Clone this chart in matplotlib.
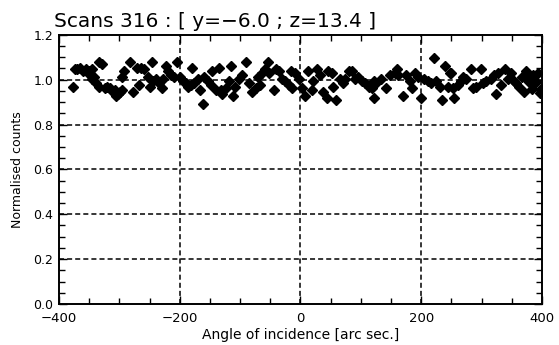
import numpy as np
import matplotlib
matplotlib.use("Agg")
import matplotlib.pyplot as plt
from matplotlib.ticker import MultipleLocator, FormatStrFormatter

# angle of incidence (arc sec) and normalised counts
angle = [-376, -373, -370, -366, -361, -356, -351, -348, -346, -345, -342,
         -339, -333, -333, -328, -324, -320, -316, -311, -307, -305, -302,
         -299, -296, -295, -292, -283, -278, -271, -268, -264, -259, -253,
         -250, -246, -245, -239, -234, -230, -228, -223, -219, -214, -209,
         -204, -200, -195, -190, -187, -181, -179, -176, -170, -167, -162,
         -159, -153, -148, -146, -140, -135, -132, -130, -124, -119, -115,
         -111, -108, -102, -97, -90, -86, -80, -74, -70, -67, -64, -58, -53,
         -52, -44, -41, -35, -31, -25, -19, -16, -14, -9, -3, 3, 7, 13, 19, 21,
         27, 33, 38, 44, 46, 52, 54, 59, 66, 71, 74, 80, 85, 90, 96, 102,
         107, 113, 119, 121, 122, 125, 134, 142, 148, 157, 160, 161, 170,
         175, 181, 184, 190, 195, 200, 205, 211, 217, 222, 225, 231, 234,
         240, 244, 247, 249, 252, 255, 261, 266, 269, 275, 282, 285, 291,
         299, 302, 308, 316, 321, 324, 327, 332, 338, 343, 349, 354, 357,
         362, 367, 371, 374, 376,
         379, 383, 385, 390, 393, 396, 399]
counts = [0.969, 1.046, 1.046, 1.054, 1.037, 1.046, 1.037, 1.020, 1.046, 1.003, 1.012,
          0.986, 0.969, 1.080, 1.071, 0.961, 0.969, 0.961, 0.944, 0.952, 0.927, 0.935,
          0.944, 0.952, 1.012, 1.037, 1.080, 0.944, 1.054, 0.978, 1.054, 1.046, 1.012,
          0.969, 1.080, 0.995, 1.003, 0.986, 0.961, 1.003, 1.063, 1.037, 1.020, 1.012,
          1.080, 1.012, 0.995, 0.986, 0.969, 0.978, 1.054, 0.986, 1.003, 0.952, 0.892,
          1.012, 0.995, 0.978, 1.037, 0.952, 1.054, 0.952, 0.935, 0.961, 0.995, 1.063,
          0.927, 0.969, 1.003, 1.020, 1.080, 0.986, 0.944, 0.961, 1.012, 0.978, 1.029,
          1.046, 1.080, 1.029, 0.952, 1.046, 1.037, 1.003, 0.995, 0.978, 1.037, 0.961,
          1.029, 1.003, 0.961, 0.927, 1.037, 0.952, 0.995, 1.046, 1.020, 0.944, 0.918,
          1.037, 1.029, 0.969, 0.910, 1.003, 0.986, 1.003, 1.037, 1.037, 1.003, 1.012,
          0.995, 0.986, 0.969, 0.961, 0.995, 0.918, 0.986, 1.003, 0.961, 1.020, 1.029,
          1.046, 1.020, 0.927, 1.020, 0.995, 0.961, 1.029, 1.012, 0.918, 1.003, 0.995,
          0.986, 1.097, 0.995, 0.969, 0.910, 1.063, 0.969, 1.029, 1.029, 0.961, 0.918,
          0.978, 0.995, 1.012, 1.003, 1.046, 0.961, 0.969, 1.046, 0.986, 0.995, 1.003,
          1.020, 0.935, 1.029, 0.978, 1.046, 1.003, 1.029, 0.995, 0.986, 0.969, 1.012,
          0.944, 1.037, 1.003,
          0.990, 0.960, 1.020, 0.990, 1.030, 0.940, 0.960]

fig = plt.figure(figsize=(5.59, 3.45), dpi=100)
ax = fig.add_axes([0.1055, 0.119, 0.864, 0.780])

ax.plot(angle, counts, linestyle="none", marker="D", markersize=4.6,
        color="black", zorder=3)

ax.set_xlim(-400, 400)
ax.set_ylim(0.0, 1.2)
ax.xaxis.set_major_locator(MultipleLocator(200))
ax.xaxis.set_minor_locator(MultipleLocator(50))
ax.yaxis.set_major_locator(MultipleLocator(0.2))
ax.yaxis.set_minor_locator(MultipleLocator(0.05))
ax.yaxis.set_major_formatter(FormatStrFormatter("%.1f"))

# dashed reference grid
for gx in [-200, 0, 200]:
    ax.axvline(gx, color="black", lw=1.1, ls=(0, (3.3, 2)), zorder=1)
for gy in [0.2, 0.4, 0.6, 0.8, 1.0]:
    ax.axhline(gy, color="black", lw=1.1, ls=(0, (3.3, 2)), zorder=1)

ax.tick_params(which="both", direction="in", top=True, right=True,
               width=1.0, labelsize=9)
ax.tick_params(which="major", length=6)
ax.tick_params(which="minor", length=4.3)
ax.tick_params(axis="x", labelsize=9.5, pad=6)
ax.tick_params(axis="y", pad=4)
for s in ax.spines.values():
    s.set_linewidth(1.4)

ax.set_xlabel("Angle of incidence [arc sec.]", fontsize=10, labelpad=2)
ax.set_ylabel("Normalised counts", fontsize=9, labelpad=7)
fig.text(54 / 559, 1 - 27 / 345, "Scans 316 : [ y=\u22126.0 ; z=13.4 ]",
         fontsize=14.5, ha="left", va="baseline")

plt.savefig("out.png", dpi=100)
